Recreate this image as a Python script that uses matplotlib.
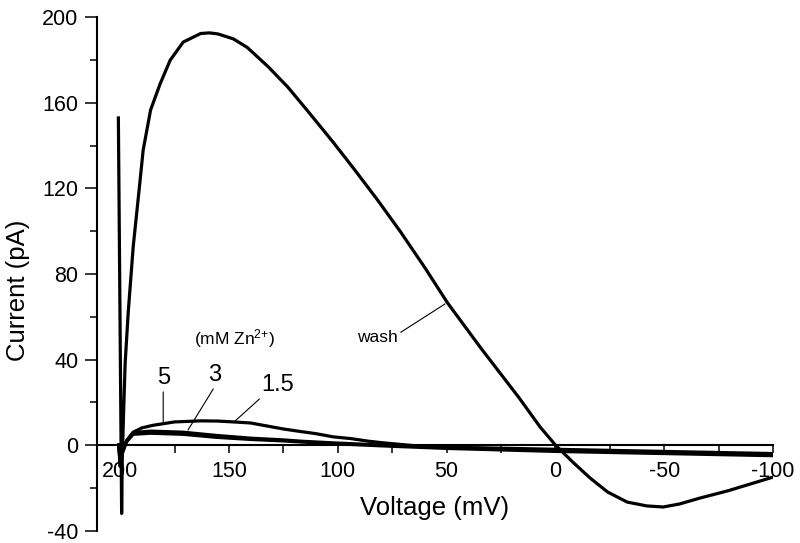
import numpy as np
import matplotlib
matplotlib.use('Agg')
import matplotlib.pyplot as plt
from matplotlib.ticker import MultipleLocator

plt.rcParams['font.family'] = ['Liberation Sans', 'DejaVu Sans']
plt.rcParams['mathtext.default'] = 'regular'
plt.rcParams['axes.unicode_minus'] = False

# wash trace (mV, pA)
wash_v = [200.8, 199.3, 199.0, 198.4, 197.7, 196.3, 194.0, 190.8, 189.4, 186.0,
          181.6, 177.0, 171.0, 163.0, 159.0, 155.0, 148.0, 141.6, 132.0, 123.0,
          114.0, 102.0, 92.8, 81.7, 71.0, 60.0, 49.5, 34.0, 17.0, 7.0, 0.0,
          -8.0, -16.0, -24.0, -33.0, -42.0, -49.5, -57.0, -66.5, -79.0, -91.0, -100.0]
wash_i = [153, -32, -6, 15, 38, 61.7, 92.6, 124, 138, 156.7,
          169, 180, 188.5, 192.5, 192.8, 192.3, 190, 186, 177, 167.5,
          156.5, 141.5, 129.5, 114.6, 99.5, 83, 66.4, 45, 22.5, 8.4, 0.0,
          -8, -15.5, -22, -26.7, -28.5, -29, -27.6, -24.8, -21.5, -17.8, -15]

# 1.5 mM Zn2+
zn15_v = [200.6, 200.0, 199.0, 197.0, 194.0, 190.0, 185.0, 180.0, 175.0, 170.0,
          163.0, 155.0, 148.0, 140.0, 132.0, 125.0, 117.0, 110.0, 102.0, 94.0,
          86.0, 79.0, 65.0, 50.0, 25.0, 0.0, -50.0, -100.0]
zn15_i = [0, -8, -3, 2, 6, 8, 9.2, 10, 10.8, 11,
          11.3, 11.2, 10.8, 10.3, 8.8, 7.5, 6.3, 5.3, 3.8, 3.0,
          1.8, 1.0, -0.3, -1.0, -1.5, -2.0, -3.0, -4.0]

# 3 mM Zn2+
zn3_v = [200.6, 200.0, 199.0, 197.0, 194.0, 186.0, 171.0, 156.0, 140.0, 125.0,
         117.0, 102.0, 80.0, 50.0, 0.0, -50.0, -100.0]
zn3_i = [0, -9, -3, 2, 5.8, 6.5, 6.0, 4.5, 3.2, 2.4,
         1.8, 1.0, 0.0, -1.2, -2.5, -3.5, -4.5]

# 5 mM Zn2+
zn5_v = [200.6, 200.0, 199.0, 197.0, 194.0, 186.0, 171.0, 156.0, 140.0, 125.0,
         117.0, 102.0, 80.0, 50.0, 0.0, -50.0, -100.0]
zn5_i = [0, -10, -4, 1.5, 5, 5.5, 5.0, 3.6, 2.6, 1.9,
         1.4, 0.6, -0.4, -1.6, -3.0, -4.0, -5.0]

xticks = [200, 150, 100, 50, 0, -50, -100]
yticks = [200, 160, 120, 80, 40, 0, -40]

fig = plt.figure(figsize=(8, 5.43), dpi=100)
ax = fig.add_axes([0.1213, 0.023, 0.845, 0.9448])

lw = 2.3
ax.plot(wash_v, wash_i, color='black', lw=lw)
ax.plot(zn15_v, zn15_i, color='black', lw=lw)
ax.plot(zn3_v, zn3_i, color='black', lw=lw)
ax.plot(zn5_v, zn5_i, color='black', lw=lw)

ax.set_xlim(210.6, -100)
ax.set_ylim(-40, 200)

ax.spines['right'].set_visible(False)
ax.spines['top'].set_visible(False)
ax.spines['bottom'].set_position(('data', 0))
ax.spines['left'].set_linewidth(1.5)
ax.spines['bottom'].set_linewidth(1.5)

ax.set_xticks(xticks)
ax.set_xticklabels([str(t) for t in xticks])
ax.set_yticks(yticks)
ax.set_yticklabels([str(t) for t in yticks])
ax.xaxis.set_minor_locator(MultipleLocator(25))
ax.yaxis.set_minor_locator(MultipleLocator(20))
ax.tick_params(axis='x', which='major', direction='out', length=5.8, width=1.1,
               labelsize=15.5, pad=6)
ax.tick_params(axis='x', which='minor', direction='out', length=5.8, width=1.1)
ax.tick_params(axis='y', which='major', direction='out', length=8.4, width=1.1,
               labelsize=15.5, pad=5)
ax.tick_params(axis='y', which='minor', direction='out', length=4.8, width=1.1)

ax.set_xlabel('Voltage (mV)', fontsize=18.5)
ax.xaxis.set_label_coords(0.5, 0.068)
ax.set_ylabel('Current (pA)', fontsize=18.5)
ax.yaxis.set_label_coords(-0.099, 0.468)

# labels and leader lines
ax.text(147.6, 50, '(mM Zn$^{2{+}}$)', fontsize=12.5, ha='center', va='center')
leader = dict(arrowstyle='-', lw=0.8, color='black', shrinkA=0, shrinkB=0)
ax.annotate('wash', xy=(50.7, 66), xytext=(81.7, 50.5), fontsize=12.5,
            ha='center', va='center', arrowprops=dict(leader, relpos=(1, 0.7)))
ax.annotate('5', xy=(180.2, 10.3), xytext=(180.2, 31.3), fontsize=17,
            ha='center', va='center', arrowprops=dict(leader, relpos=(0.5, 0)))
ax.annotate('3', xy=(168.8, 7), xytext=(156.4, 32.7), fontsize=17,
            ha='center', va='center', arrowprops=dict(leader, relpos=(0.5, 0)))
ax.annotate('1.5', xy=(147.2, 11.2), xytext=(127.4, 28), fontsize=17,
            ha='center', va='center', arrowprops=dict(leader, relpos=(0.1, 0.1)))

plt.savefig('out.png', dpi=100)
